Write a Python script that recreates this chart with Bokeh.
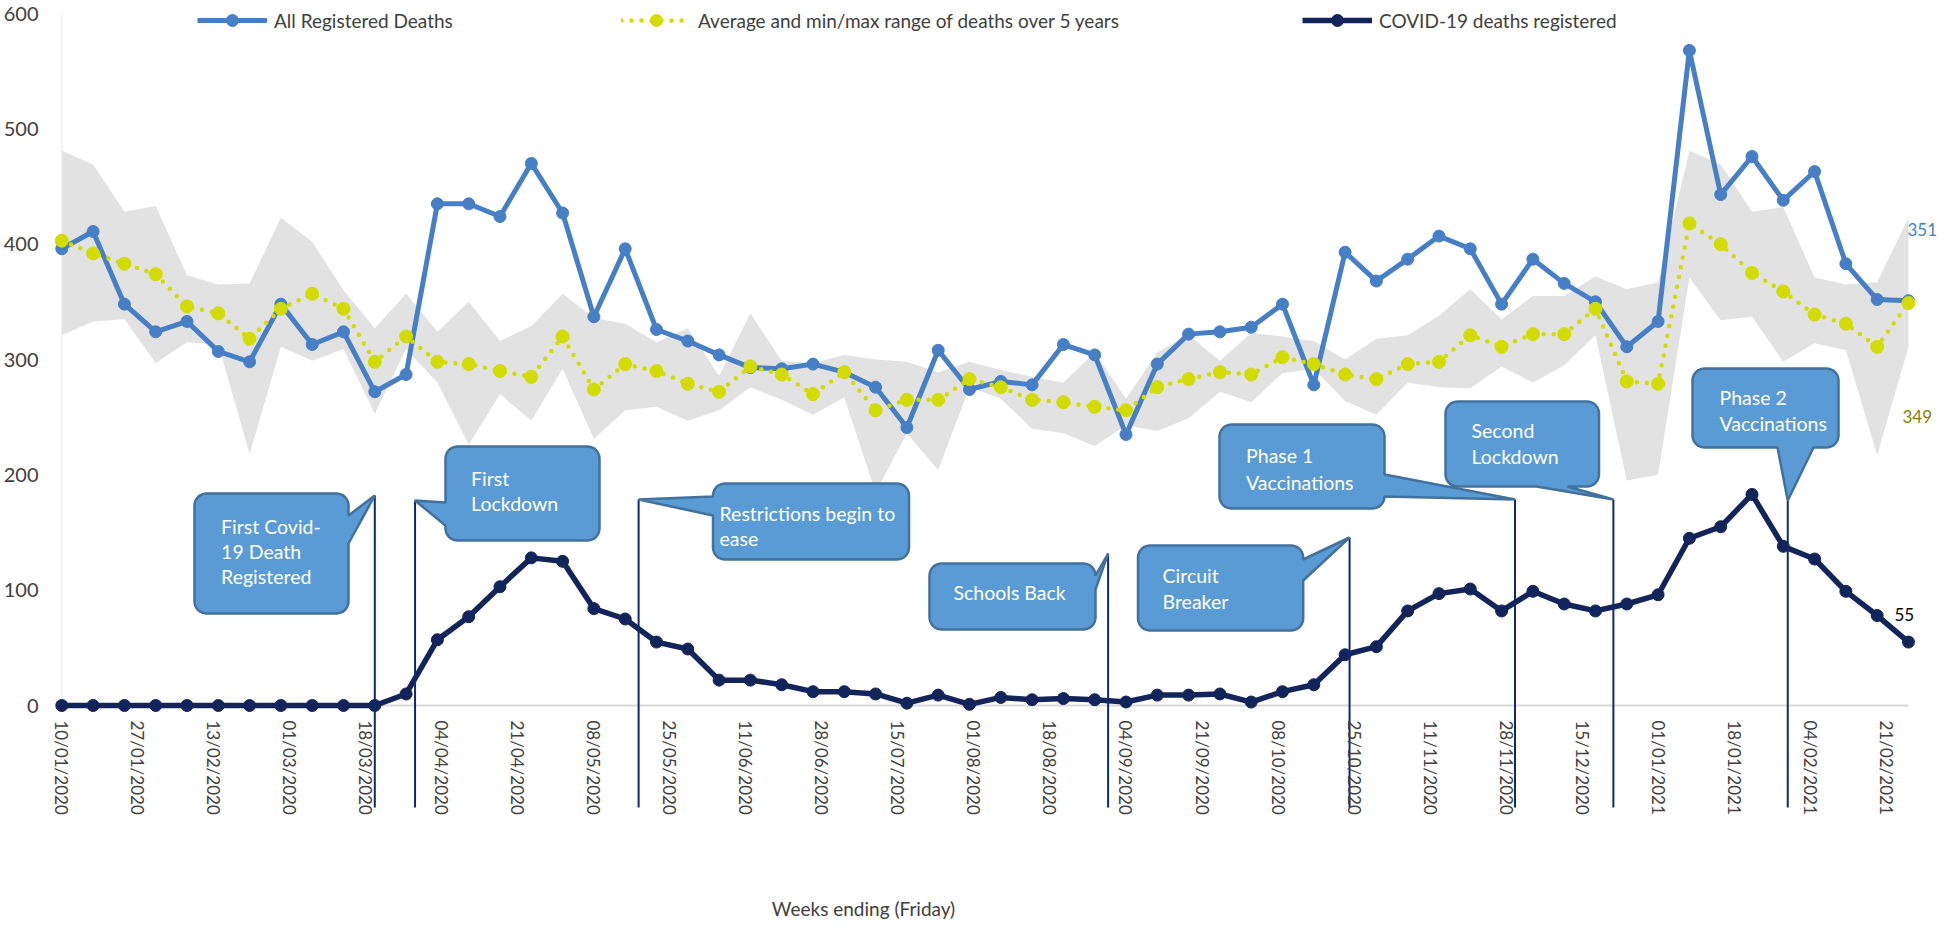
import math
import pandas as pd
from bokeh.plotting import figure
from bokeh.models import ColumnDataSource, Range1d, FixedTicker, Legend, LegendItem
from bokeh.core.properties import value
from bokeh.embed import file_html
from bokeh.resources import INLINE

# ---------------- data ----------------
week_ending = pd.date_range("2020-01-10", periods=60, freq="7D")

all_registered = [396, 411, 348, 324, 333, 307, 298, 348, 313, 324,
                  272, 287, 435, 435, 424, 470, 427, 337, 396, 326,
                  316, 304, 293, 292, 296, 289, 276, 241, 308, 274,
                  281, 278, 313, 304, 235, 296, 322, 324, 328, 348,
                  278, 393, 368, 387, 407, 396, 348, 387, 366, 350,
                  311, 333, 568, 443, 476, 438, 463, 383, 352, 351]
avg_5yr = [403, 392, 383, 374, 346, 340, 318, 344, 357, 344,
           298, 320, 298, 296, 290, 285, 320, 274, 296, 290,
           279, 272, 294, 287, 270, 289, 256, 265, 265, 283,
           276, 265, 263, 259, 256, 276, 283, 289, 287, 302,
           296, 287, 283, 296, 298, 321, 311, 322, 322, 344,
           281, 279, 418, 400, 375, 359, 339, 331, 311, 349]
max_5yr = [481, 469, 428, 433, 373, 365, 366, 423, 402, 360,
           327, 357, 324, 350, 316, 329, 357, 336, 331, 315,
           327, 286, 340, 299, 297, 304, 300, 298, 289, 298,
           291, 285, 280, 306, 266, 306, 321, 299, 323, 320,
           316, 300, 318, 321, 338, 361, 335, 355, 355, 372,
           361, 367, 481, 469, 428, 432, 371, 365, 367, 423]
min_5yr = [321, 333, 335, 297, 315, 313, 218, 311, 299, 309,
           253, 309, 280, 226, 270, 247, 292, 231, 256, 259,
           247, 256, 276, 265, 252, 267, 185, 236, 204, 276,
           266, 240, 236, 225, 243, 238, 249, 272, 263, 288,
           292, 264, 252, 280, 276, 275, 294, 280, 295, 321,
           195, 200, 371, 334, 337, 298, 314, 308, 217, 311]
covid_deaths = [0, 0, 0, 0, 0, 0, 0, 0, 0, 0,
                0, 10, 57, 77, 103, 128, 125, 84, 75, 55,
                49, 22, 22, 18, 12, 12, 10, 2, 9, 1,
                7, 5, 6, 5, 3, 9, 9, 10, 3, 12,
                18, 44, 51, 82, 97, 101, 82, 99, 88, 82,
                88, 96, 145, 155, 183, 138, 127, 99, 78, 55]

tick_labels = ["10/01/2020", "27/01/2020", "13/02/2020", "01/03/2020", "18/03/2020",
               "04/04/2020", "21/04/2020", "08/05/2020", "25/05/2020", "11/06/2020",
               "28/06/2020", "15/07/2020", "01/08/2020", "18/08/2020", "04/09/2020",
               "21/09/2020", "08/10/2020", "25/10/2020", "11/11/2020", "28/11/2020",
               "15/12/2020", "01/01/2021", "18/01/2021", "04/02/2021", "21/02/2021"]
y_ticks = [0, 100, 200, 300, 400, 500, 600]

event_dates = ["2020-03-20", "2020-03-29", "2020-05-18", "2020-08-31",
               "2020-10-24", "2020-11-30", "2020-12-22", "2021-01-30"]
event_text = [["First Covid-", "19 Death", "Registered"], ["First", "Lockdown"],
              ["Restrictions  begin to", "ease"], ["Schools Back"],
              ["Circuit", "Breaker"], ["Phase 1", "Vaccinations"],
              ["Second", "Lockdown"], ["Phase 2", "Vaccinations"]]

legend_labels = ["All Registered Deaths", "Average and min/max range of deaths over 5 years",
                 "COVID-19 deaths registered"]
x_title = "Weeks ending (Friday)"

# ---------------- layout helpers (page pixels) ----------------
DAY = 86400000.0
def ms(d):
    return pd.Timestamp(d).timestamp() * 1000.0

xs_ms = [ms(d) for d in week_ending]
X_ORIGIN = xs_ms[0]
X0_PX, PX_PER_DAY = 69.3, 4.4714
Y0_PX, PX_PER_UNIT = 713.0, 1.15333

def px2x(px):
    return X_ORIGIN + (px - X0_PX) / PX_PER_DAY * DAY

def px2y(py):
    return (Y0_PX - py) / PX_PER_UNIT

def x2px(xm):
    return X0_PX + (xm - X_ORIGIN) / DAY * PX_PER_DAY

FRAME_L, FRAME_T, FRAME_R, FRAME_B = 55, 11, 1946, 935

BLUE = "#467fc5"
YELLOW = "#d2dc00"
NAVY = "#12245a"
BAND = "#e2e2e2"
EVENT_LINE = "#0f2a6b"
CALLOUT_FILL = "#5b9bd5"
CALLOUT_LINE = "#41719c"
TEXT = "#404040"
FONT = "Lato"

p = figure(frame_width=FRAME_R - FRAME_L, frame_height=FRAME_B - FRAME_T,
           x_range=Range1d(px2x(FRAME_L), px2x(FRAME_R)),
           y_range=Range1d(px2y(FRAME_B), px2y(FRAME_T)),
           x_axis_location=None, output_backend="svg", toolbar_location=None,
           min_border_left=FRAME_L - 8, min_border_top=FRAME_T - 8,
           min_border_right=0, min_border_bottom=0)
p.outline_line_color = None
p.grid.grid_line_color = None
p.background_fill_color = "white"

yax = p.yaxis[0]
yax.ticker = FixedTicker(ticks=y_ticks)
yax.axis_line_color = None
yax.major_tick_line_color = None
yax.minor_tick_line_color = None
yax.major_tick_out = 0
yax.major_tick_in = 0
yax.major_label_standoff = FRAME_L - 46
yax.major_label_text_font = FONT
yax.major_label_text_font_size = "20px"
yax.major_label_text_color = TEXT

src = ColumnDataSource(dict(x=xs_ms, all=all_registered, avg=avg_5yr,
                            lo=min_5yr, hi=max_5yr, covid=covid_deaths))

# min/max band
p.varea(x="x", y1="lo", y2="hi", source=src, fill_color=BAND)
# faint vertical axis line and zero line
p.segment(x0=[xs_ms[0]], y0=[y_ticks[0]], x1=[xs_ms[0]], y1=[y_ticks[-1]],
          line_color="#ececec", line_width=1)
p.line(x=[xs_ms[0], xs_ms[-1]], y=[y_ticks[0], y_ticks[0]], line_color="#d9d9d9", line_width=2)

r_b_line = p.line("x", "all", source=src, line_color=BLUE, line_width=5, line_join="round")
r_b_pts = p.scatter("x", "all", source=src, marker="circle", size=12,
                    fill_color=BLUE, line_color=BLUE)
r_y_line = p.line("x", "avg", source=src, line_color=YELLOW, line_width=4.5,
                  line_dash="0 10", line_cap="round")
r_y_pts = p.scatter("x", "avg", source=src, marker="circle", size=13,
                    fill_color=YELLOW, line_color=YELLOW)
r_n_line = p.line("x", "covid", source=src, line_color=NAVY, line_width=5.5, line_join="round")
r_n_pts = p.scatter("x", "covid", source=src, marker="circle", size=12,
                    fill_color=NAVY, line_color=NAVY)

# event lines
EV_TOP_PX = [503, 508, 507, 561, 545, 507, 507, 508]
EV_BOTTOM_PX = 815
ev_x = [ms(d) for d in event_dates]
p.segment(x0=ev_x, y0=[px2y(EV_BOTTOM_PX)] * len(ev_x), x1=ev_x,
          y1=[px2y(t) for t in EV_TOP_PX], line_color=EVENT_LINE, line_width=2)

# callouts (page pixel geometry)
CALLOUTS = [
    dict(box=(202, 501, 356, 621), side="right", base=(523, 551), tx=228.6, ty=534, gap=25.2),
    dict(box=(453, 454, 607, 548), side="left", base=(510, 533), tx=478.6, ty=486, gap=25),
    dict(box=(720.5, 491, 916.5, 567), side="left", base=(504, 523), tx=727, ty=520.7, gap=25),
    dict(box=(937, 571, 1103, 637), side="right", base=(583, 597), tx=961, ty=600, gap=25),
    dict(box=(1145.5, 553, 1310.7, 638), side="right", base=(567, 588), tx=1170, ty=583, gap=26),
    dict(box=(1227, 432, 1392, 516), side="right", base=(482, 504), tx=1253.6, ty=463, gap=27),
    dict(box=(1453, 409, 1606.5, 494), side="bottom", base=(1544, 1575), tx=1479, ty=438, gap=26),
    dict(box=(1700, 376, 1846, 455), side="bottom", base=(1785, 1821), tx=1727, ty=405, gap=26),
]

def callout_path(L, T, R, B, side, a, b, tip, r=12, n=6):
    pts = []
    def arc(cx, cy, a0, a1):
        for k in range(n + 1):
            t = math.radians(a0 + (a1 - a0) * k / n)
            pts.append((cx + r * math.cos(t), cy + r * math.sin(t)))
    arc(R - r, T + r, -90, 0)
    if side == "right":
        pts.extend([(R, a), tip, (R, b)])
    arc(R - r, B - r, 0, 90)
    if side == "bottom":
        pts.extend([(b, B), tip, (a, B)])
    arc(L + r, B - r, 90, 180)
    if side == "left":
        pts.extend([(L, b), tip, (L, a)])
    arc(L + r, T + r, 180, 270)
    return pts

c_xs, c_ys, t_x, t_y, t_txt = [], [], [], [], []
for i, c in enumerate(CALLOUTS):
    L, T, R, B = c["box"]
    tip = (x2px(ev_x[i]), EV_TOP_PX[i])
    pts = callout_path(L, T, R, B, c["side"], c["base"][0], c["base"][1], tip)
    c_xs.append([px2x(px) for px, _ in pts])
    c_ys.append([px2y(py) for _, py in pts])
    for j, line in enumerate(event_text[i]):
        t_x.append(px2x(c["tx"]))
        t_y.append(px2y(c["ty"] + j * c["gap"]))
        t_txt.append(line)

p.patches(xs=c_xs, ys=c_ys, fill_color=CALLOUT_FILL, line_color=CALLOUT_LINE, line_width=2.5)
p.text(x=t_x, y=t_y, text=t_txt, text_font=value(FONT), text_font_size="19.5px",
       text_color="white", text_align="left", text_baseline="middle")

# x tick labels (rotated, reading downward)
tick_x = [ms(pd.to_datetime(t, format="%d/%m/%Y")) for t in tick_labels]
p.text(x=tick_x, y=[px2y(728)] * len(tick_x), text=tick_labels, angle=-math.pi / 2,
       text_font=value(FONT), text_font_size="17px", text_color=TEXT,
       text_align="left", text_baseline="middle")

# axis title
p.text(x=[px2x(871)], y=[px2y(916)], text=[x_title], text_font=value(FONT),
       text_font_size="19px", text_color=TEXT, text_align="center", text_baseline="middle")

# end value labels
p.text(x=[px2x(1915)], y=[px2y(237)], text=[str(all_registered[-1])], text_font=value(FONT),
       text_font_size="17px", text_color=BLUE, text_align="left", text_baseline="middle")
p.text(x=[px2x(1910)], y=[px2y(424)], text=[str(avg_5yr[-1])], text_font=value(FONT),
       text_font_size="17px", text_color="#7f7f00", text_align="left", text_baseline="middle")
p.text(x=[px2x(1902)], y=[px2y(622)], text=[str(covid_deaths[-1])], text_font=value(FONT),
       text_font_size="17px", text_color="#000000", text_align="left", text_baseline="middle")

# legends (one per item, placed like the reference)
LEG_LEFT_PX = [205, 629, 1310]
leg_renderers = [[r_b_line, r_b_pts], [r_y_line, r_y_pts], [r_n_line, r_n_pts]]
for lab, rends, lx in zip(legend_labels, leg_renderers, LEG_LEFT_PX):
    lg = Legend(items=[LegendItem(label=lab, renderers=rends)],
                location=(lx - FRAME_L, FRAME_B - 43), orientation="horizontal",
                padding=0, margin=0, spacing=0, glyph_width=70, glyph_height=30,
                label_height=30, label_standoff=7, label_text_font=FONT,
                label_text_font_size="19px", label_text_color=TEXT,
                border_line_color=None, background_fill_alpha=0)
    p.add_layout(lg)

open("out.html", "w").write(file_html(p, INLINE))
